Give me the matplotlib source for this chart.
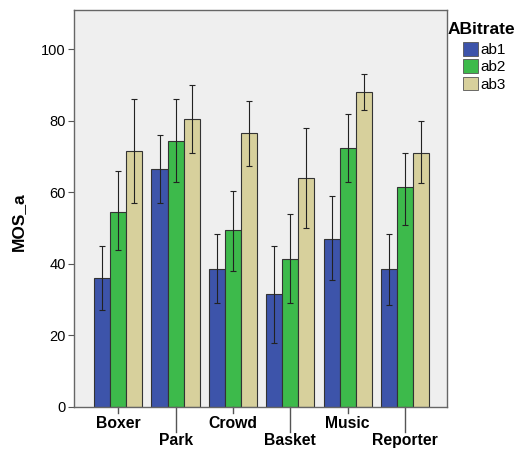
import matplotlib
matplotlib.use("Agg")
import matplotlib.pyplot as plt
import numpy as np
from matplotlib.patches import Patch

plt.rcParams['font.family'] = ['Liberation Sans', 'DejaVu Sans']

categories = ["Boxer", "Park", "Crowd", "Basket", "Music", "Reporter"]
series_names = ["ab1", "ab2", "ab3"]
ab1 = [36.0, 66.5, 38.5, 31.5, 47.0, 38.5]
ab2 = [54.5, 74.5, 49.5, 41.5, 72.5, 61.5]
ab3 = [71.5, 80.5, 76.5, 64.0, 88.0, 71.0]
ab1_lo = [27.0, 57.0, 29.0, 18.0, 35.5, 28.5]
ab1_hi = [45.0, 76.0, 48.5, 45.0, 59.0, 48.5]
ab2_lo = [44.0, 63.0, 38.0, 29.0, 63.0, 51.0]
ab2_hi = [66.0, 86.0, 60.5, 54.0, 82.0, 71.0]
ab3_lo = [57.0, 71.0, 67.5, 50.0, 83.0, 62.5]
ab3_hi = [86.0, 90.0, 85.5, 78.0, 93.0, 80.0]
yticks = [0, 20, 40, 60, 80, 100]

colors = ["#3D54AA", "#3DBA4B", "#D7D09C"]
values = [ab1, ab2, ab3]
lows = [ab1_lo, ab2_lo, ab3_lo]
highs = [ab1_hi, ab2_hi, ab3_hi]

fig = plt.figure(figsize=(5.25, 4.51), dpi=100)
ax = fig.add_axes([74/525, 1-407/451, (447-74)/525, (407-10)/451])
ax.set_facecolor("#EFEFEF")

x = np.arange(len(categories))
w = 0.28
for i in range(3):
    xs = x + (i - 1) * w
    v = np.array(values[i])
    lo = v - np.array(lows[i])
    hi = np.array(highs[i]) - v
    ax.bar(xs, v, width=w, color=colors[i], edgecolor="#333333", linewidth=0.8, zorder=2)
    ax.errorbar(xs, v, yerr=[lo, hi], fmt="none", ecolor="#222222", elinewidth=0.8,
                capsize=2, capthick=0.8, zorder=3)

ax.set_xlim(-0.77, 5.73)
ax.set_ylim(0, 111)
ax.set_yticks(yticks)
ax.set_yticklabels([str(t) for t in yticks], fontsize=10.5)
ax.set_xticks(x)
ax.set_xticklabels([])
ax.tick_params(axis="x", length=0)
ax.tick_params(axis="y", length=4, color="#555555", pad=2)

for i, c in enumerate(categories):
    off = -6.5 if i % 2 == 0 else -18.7
    ax.annotate(c, xy=(x[i], 0), xycoords=("data", "axes fraction"),
                xytext=(0, off), textcoords="offset points",
                ha="center", va="top", fontsize=11.3, fontweight="bold")
    L = 6 if i % 2 == 0 else 25
    ax.plot([x[i], x[i]], [0, -L / 397], transform=ax.get_xaxis_transform(),
            color="#555555", linewidth=1, clip_on=False)

for s in ax.spines.values():
    s.set_color("#666666")
    s.set_linewidth(1)

ax.set_ylabel("MOS_a", fontsize=12.5, fontweight="bold")
ax.yaxis.set_label_coords(-48/373, (407-222)/397)

fig.text(448/525, 1-30/451, "ABitrate", fontsize=12.5, fontweight="bold", ha="left", va="center")
handles = [Patch(facecolor=colors[i], edgecolor="#555555", linewidth=0.6, label=series_names[i]) for i in range(3)]
leg = fig.legend(handles=handles, loc="upper left",
                 bbox_to_anchor=(463/525, 1-42/451), frameon=False, fontsize=11,
                 borderpad=0, borderaxespad=0,
                 handlelength=1.0, handleheight=1.0, handletextpad=0.15, labelspacing=0.15)

fig.savefig("out.png", dpi=100, facecolor="white")
